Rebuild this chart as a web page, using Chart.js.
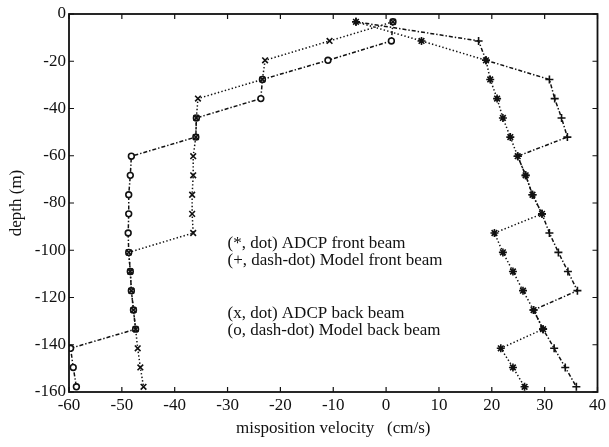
<!DOCTYPE html>
<html>
<head>
<meta charset="utf-8">
<script src="https://cdn.jsdelivr.net/npm/chart.js@4.4.1/dist/chart.umd.min.js"></script>
<style>
  html, body { margin: 0; padding: 0; background: #fff; }
  canvas { display: block; }
</style>
</head>
<body>
<canvas id="beamChart" width="609" height="447"></canvas>
<script>
// bin depths (m), same bins for all four profiles
const depths = [-3.3, -11.4, -19.6, -27.7, -35.8, -44.0, -52.1, -60.2, -68.3, -76.5,
  -84.6, -92.7, -100.9, -109.0, -117.1, -125.3, -133.4, -141.5, -149.6, -157.8];

// misposition velocity (cm/s) per bin
const adcpFront = [-5.7, 6.7, 18.9, 19.7, 21.0, 22.1, 23.5, 24.9, 26.4, 27.7,
  29.5, 20.5, 22.1, 24.0, 25.9, 27.9, 29.7, 21.7, 24.0, 26.2];
const modelFront = [-5.7, 17.5, 18.9, 30.9, 31.9, 33.2, 34.3, 24.9, 26.4, 27.7,
  29.5, 30.9, 32.6, 34.4, 36.2, 27.9, 29.7, 31.8, 33.9, 36.0];
const adcpBack = [1.3, -10.7, -22.9, -23.4, -35.6, -35.9, -36.0, -36.5, -36.5, -36.7,
  -36.7, -36.5, -48.7, -48.4, -48.2, -47.8, -47.4, -47.0, -46.5, -45.9];
const modelBack = [1.3, 1.0, -11.0, -23.4, -23.7, -35.9, -36.0, -48.2, -48.4, -48.7,
  -48.7, -48.8, -48.7, -48.4, -48.2, -47.8, -47.4, -59.7, -59.2, -58.6];

const xTicks = [-60, -50, -40, -30, -20, -10, 0, 10, 20, 30, 40];
const yTicks = [-160, -140, -120, -100, -80, -60, -40, -20, 0];

const noteLines = [
  '(*, dot) ADCP front beam',
  '(+, dash-dot) Model front beam',
  '',
  '',
  '(x, dot) ADCP back beam',
  '(o, dash-dot) Model back beam'
];

const INK = '#111';
const DOT = [1.4, 2.2];
const DASH_DOT = [4, 2, 1.4, 2];

Chart.defaults.font.family = "'Liberation Serif', 'Times New Roman', serif";
Chart.defaults.font.size = 17;
Chart.defaults.color = INK;

function profile(label, values, style, dash) {
  return {
    label,
    data: values.map((v, i) => ({ x: v, y: depths[i] })),
    showLine: true,
    borderColor: INK,
    borderWidth: 1.5,
    borderDash: dash,
    pointStyle: style,
    pointRadius: style === 'circle' ? 2.9 : 4,
    pointBorderWidth: 1.6,
    pointBorderColor: INK,
    pointBackgroundColor: '#fff'
  };
}

// box round the plot, inward ticks on all four sides, and the text block
const frameTicks = {
  id: 'frameTicks',
  afterDraw(chart) {
    const { ctx, chartArea: a, scales: { x, y } } = chart;
    const len = 5;
    ctx.save();
    ctx.strokeStyle = INK;
    ctx.lineWidth = 1.2;
    ctx.beginPath();
    xTicks.forEach(v => {
      const px = x.getPixelForValue(v);
      ctx.moveTo(px, a.bottom); ctx.lineTo(px, a.bottom - len);
      ctx.moveTo(px, a.top); ctx.lineTo(px, a.top + len);
    });
    yTicks.forEach(v => {
      const py = y.getPixelForValue(v);
      ctx.moveTo(a.left, py); ctx.lineTo(a.left + len, py);
      ctx.moveTo(a.right, py); ctx.lineTo(a.right - len, py);
    });
    ctx.stroke();
    ctx.lineWidth = 1.8;
    ctx.strokeRect(a.left, a.top, a.right - a.left, a.bottom - a.top);

    ctx.fillStyle = INK;
    ctx.font = "17px 'Liberation Serif', 'Times New Roman', serif";
    ctx.textBaseline = 'middle';
    const tx = x.getPixelForValue(-30);
    const ty = y.getPixelForValue(-97);
    noteLines.forEach((line, i) => ctx.fillText(line, tx, ty + i * 17.5));
    ctx.restore();
  }
};

new Chart(document.getElementById('beamChart'), {
  type: 'scatter',
  data: {
    datasets: [
      profile('ADCP front beam', adcpFront, 'star', DOT),
      profile('Model front beam', modelFront, 'cross', DASH_DOT),
      profile('ADCP back beam', adcpBack, 'crossRot', DOT),
      profile('Model back beam', modelBack, 'circle', DASH_DOT)
    ]
  },
  options: {
    responsive: false,
    animation: false,
    layout: { padding: { left: 2, right: 6, top: 14, bottom: 4 } },
    plugins: { legend: { display: false }, tooltip: { enabled: false } },
    scales: {
      x: {
        type: 'linear',
        min: -60,
        max: 40,
        afterBuildTicks: s => { s.ticks = xTicks.map(v => ({ value: v })); },
        afterFit: s => { s.height = 51; },
        grid: { display: false, drawTicks: false },
        border: { display: false },
        ticks: { padding: 3, maxRotation: 0, autoSkip: false },
        title: { display: true, text: 'misposition velocity   (cm/s)', padding: { top: 4, bottom: 4 } }
      },
      y: {
        type: 'linear',
        min: -160,
        max: 0,
        afterBuildTicks: s => { s.ticks = yTicks.map(v => ({ value: v })); },
        afterFit: s => { s.width = 67; },
        grid: { display: false, drawTicks: false },
        border: { display: false },
        ticks: { padding: 3, autoSkip: false },
        title: { display: true, text: 'depth (m)', padding: { top: 4, bottom: 4 } }
      }
    }
  },
  plugins: [frameTicks]
});
</script>
</body>
</html>
